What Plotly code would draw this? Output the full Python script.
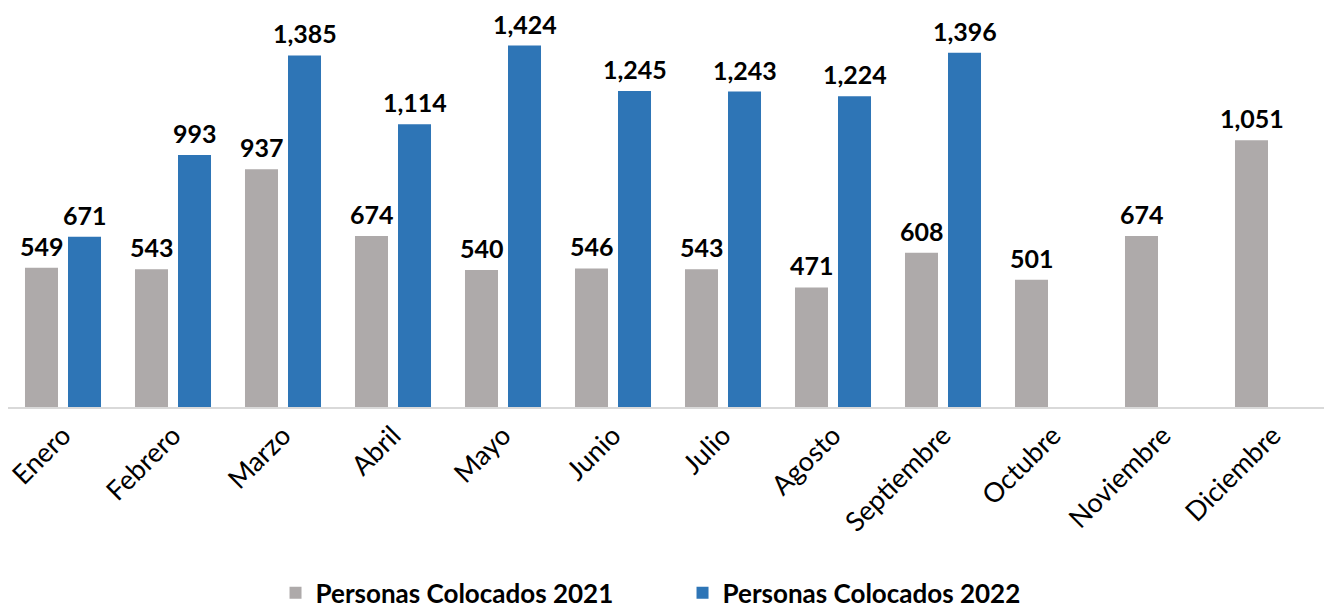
import plotly.graph_objects as go

meses = ["Enero", "Febrero", "Marzo", "Abril", "Mayo", "Junio", "Julio",
         "Agosto", "Septiembre", "Octubre", "Noviembre", "Diciembre"]
colocados_2021 = [549, 543, 937, 674, 540, 546, 543, 471, 608, 501, 674, 1051]
colocados_2022 = [671, 993, 1385, 1114, 1424, 1245, 1243, 1224, 1396, None, None, None]

FONT = "Lato"
label_font = dict(family=FONT, size=25, color="black", weight="bold")

fig = go.Figure()
fig.add_trace(go.Bar(x=meses, y=colocados_2021, name="Personas Colocados 2021",
                     marker=dict(color="#AEAAAA")))
fig.add_trace(go.Bar(x=meses, y=colocados_2022, name="Personas Colocados 2022",
                     marker=dict(color="#2E75B6")))

# value labels sit a little higher above the bars than plotly's outside text
for serie, shift in ((colocados_2021, -21.5), (colocados_2022, 21.5)):
    for mes, v in zip(meses, serie):
        if v is None:
            continue
        fig.add_annotation(x=mes, y=v, text=f"{v:,}", showarrow=False,
                           xanchor="center", yanchor="bottom", xshift=shift, yshift=6,
                           borderpad=0, font=label_font)

# page body adds an 8px offset, so the figure is sized to fit the window
fig.update_layout(
    width=1324, height=603, template="none",
    plot_bgcolor="white", paper_bgcolor="white",
    margin=dict(l=0, r=4, t=0, b=204, autoexpand=False),
    barmode="group", bargap=0.218, bargroupgap=0.2326,
    font=dict(family=FONT, color="black"),
    showlegend=True,
    legend=dict(orientation="h", x=0.511, xanchor="center", y=-0.466, yanchor="middle",
                entrywidth=362, entrywidthmode="pixels",
                font=dict(family=FONT, size=26, color="black", weight="bold")),
    xaxis=dict(showgrid=False, showline=True, linecolor="#D9D9D9", linewidth=2,
               automargin=False, ticks="", tickangle=-45,
               tickfont=dict(family=FONT, size=27, color="black")),
    yaxis=dict(range=[0, 1572], showgrid=False, showticklabels=False, zeroline=False,
               showline=False, automargin=False),
)

fig.write_html("out.html")
